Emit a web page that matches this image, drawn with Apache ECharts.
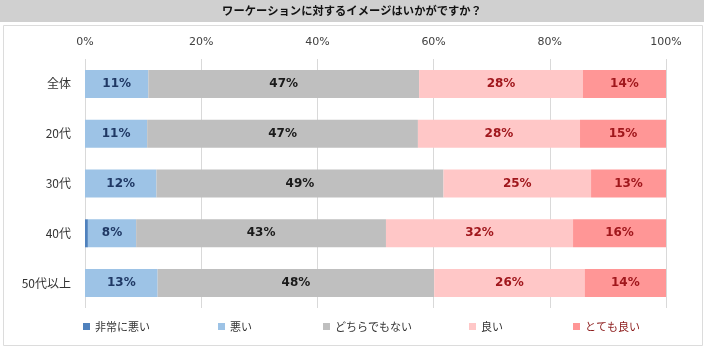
<!DOCTYPE html>
<html>
<head>
<meta charset="utf-8">
<script src="https://cdn.jsdelivr.net/npm/echarts@6/dist/echarts.min.js"></script>
<style>
  html, body { margin: 0; padding: 0; background: #fff; }
  #main { width: 704px; height: 354px; }
</style>
</head>
<body>
<div id="main"></div>
<script>
// カテゴリ（上から順）
var categories = ['全体', '20代', '30代', '40代', '50代以上'];
var xTicks = [0, 20, 40, 60, 80, 100];

// 各回答の割合（%）
var veryBad   = [0,    0,    0,    0.5,  0];
var bad       = [10.9, 10.7, 12.3, 8.3,  12.5];
var neutral   = [46.6, 46.6, 49.4, 43.0, 47.6];
var good      = [28.2, 27.9, 25.4, 32.2, 25.9];
var veryGood  = [14.3, 14.8, 12.9, 16.0, 14.0];

var seriesNames = ['非常に悪い', '悪い', 'どちらでもない', '良い', 'とても良い'];

var jpFont = '"Noto Sans CJK JP", "Noto Sans", sans-serif';
var numFont = '"DejaVu Sans", Verdana, sans-serif';

var chart = echarts.init(document.getElementById('main'));

//ラベル共通
function makeLabel(color, show){
    return {
        show: show,
        position: 'inside',
        color: color,
        fontFamily: numFont,
        fontSize: 12,
        fontWeight: 'bold',
        formatter: function (p){
            return Math.round(p.value) + '%';
        }
    };
}

function makeSeries(name, data, color, labelColor, show){
    return {
        name: name,
        type: 'bar',
        stack: 'total',
        barWidth: 28,
        data: data,
        itemStyle: {color: color},
        label: makeLabel(labelColor, show),
        emphasis: {disabled: true},
        animation: false
    };
}

//凡例は項目ごとに位置を合わせる
var legendLefts = [78, 213, 318, 464, 568];
var legendColors = ['#333', '#333', '#333', '#333', '#8b1a1a'];
var legends = seriesNames.map(function (name, i){
    return {
        left: legendLefts[i],
        top: 316,
        itemWidth: 7,
        itemHeight: 7,
        icon: 'rect',
        textStyle: {fontFamily: jpFont, fontSize: 11, color: legendColors[i]},
        data: [name]
    };
});

var option = {
    backgroundColor: '#ffffff',
    graphic: [
        { // タイトル帯
            type: 'rect',
            left: 0, top: 0,
            shape: {width: 704, height: 22},
            style: {fill: '#d0d0d0'},
            z: 0
        },
        {
            type: 'text',
            left: 'center', top: 5,
            style: {
                text: 'ワーケーションに対するイメージはいかがですか？',
                fill: '#111',
                font: 'bold 11.3px ' + jpFont
            },
            z: 1
        },
        { // 外枠
            type: 'rect',
            left: 1, top: 23,
            shape: {width: 699, height: 320},
            style: {fill: 'none', stroke: '#dcdcdc', lineWidth: 1},
            z: 0
        }
    ],
    legend: legends,
    grid: {
        left: 85,
        right: 38,
        top: 59,
        bottom: 46,
        containLabel: false
    },
    xAxis: {
        type: 'value',
        position: 'top',
        min: 0,
        max: 100,
        interval: 20,
        axisLine: {show: false},
        axisTick: {show: false},
        axisLabel: {
            margin: 11,
            color: '#404040',
            fontFamily: numFont,
            fontSize: 11,
            formatter: function (v){
                return xTicks.indexOf(v) >= 0 ? v + '%' : '';
            }
        },
        splitLine: {lineStyle: {color: '#d9d9d9', width: 1}}
    },
    yAxis: {
        type: 'category',
        inverse: true,
        data: categories,
        axisLine: {show: false},
        axisTick: {show: false},
        axisLabel: {
            margin: 14,
            color: '#333',
            fontFamily: jpFont,
            fontSize: 12
        }
    },
    series: [
        makeSeries(seriesNames[0], veryBad, '#4f81bd', '#1f3864', false),
        makeSeries(seriesNames[1], bad, '#9dc3e6', '#1f3864', true),
        makeSeries(seriesNames[2], neutral, '#bfbfbf', '#1a1a1a', true),
        makeSeries(seriesNames[3], good, '#ffc7c7', '#a0171c', true),
        makeSeries(seriesNames[4], veryGood, '#ff9696', '#a0171c', true)
    ]
};

chart.setOption(option);
</script>
</body>
</html>
